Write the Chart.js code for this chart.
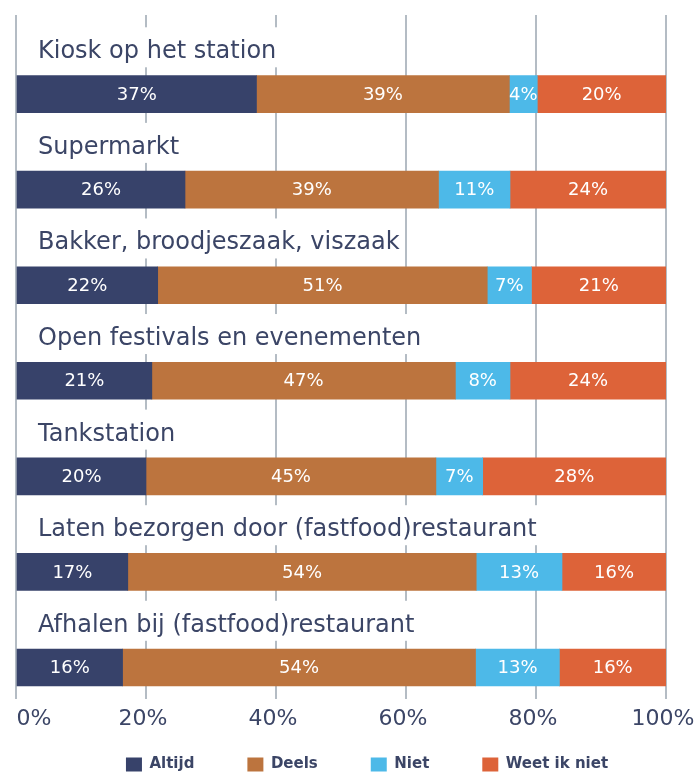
<!DOCTYPE html>
<html><head><meta charset="utf-8">
<script src="https://cdn.jsdelivr.net/npm/chart.js@4"></script>
<style>html,body{margin:0;padding:0;background:#fff}#wrap{width:697px;height:776px;position:relative}</style>
</head><body><div id="wrap"><canvas id="c"></canvas></div>
<script>
const categories = [
  'Kiosk op het station',
  'Supermarkt',
  'Bakker, broodjeszaak, viszaak',
  'Open festivals en evenementen',
  'Tankstation',
  'Laten bezorgen door (fastfood)restaurant',
  'Afhalen bij (fastfood)restaurant'
];
const seriesNames = ['Altijd', 'Deels', 'Niet', 'Weet ik niet'];
const altijd     = [37.0, 26.0, 21.8, 20.9, 20.0, 17.2, 16.4];
const deels      = [38.9, 39.0, 50.7, 46.7, 44.6, 53.6, 54.3];
const niet       = [4.3, 11.0, 6.8, 8.4, 7.2, 13.2, 12.9];
const weetIkNiet = [19.8, 24.0, 20.7, 24.0, 28.2, 16.0, 16.4];
const tickValues = [0, 20, 40, 60, 80, 100];
const tickLabels = ['0%', '20%', '40%', '60%', '80%', '100%'];
const colors = ['#37426a', '#bc743e', '#4db9e8', '#dd6339'];

const series = [altijd, deels, niet, weetIkNiet];
const FONT = 'DejaVu Sans';
const TEXT = '#3b4566';

const labelsPlugin = {
  id: 'catLabels',
  beforeDatasetsDraw(chart) {
    const {ctx, chartArea} = chart;
    const y = chart.scales.y;
    ctx.save();
    ctx.font = '24px "' + FONT + '"';
    ctx.textBaseline = 'alphabetic';
    ctx.textAlign = 'left';
    categories.forEach((c, i) => {
      const base = y.getPixelForValue(i - 0.374);
      const x0 = chartArea.left + 22;
      const w = ctx.measureText(c).width;
      ctx.fillStyle = '#ffffff';
      ctx.fillRect(x0 - 4, base - 31, w + 8, 40);
      ctx.fillStyle = TEXT;
      ctx.fillText(c, x0, base);
    });
    ctx.restore();
  },
  afterDatasetsDraw(chart) {
    const {ctx} = chart;
    ctx.save();
    ctx.font = '18px "' + FONT + '"';
    ctx.fillStyle = '#ffffff';
    ctx.textAlign = 'center';
    ctx.textBaseline = 'middle';
    series.forEach((vals, d) => {
      const meta = chart.getDatasetMeta(d);
      meta.data.forEach((el, i) => {
        const cx = (el.x + el.base) / 2;
        ctx.fillText(Math.round(vals[i]) + '%', cx, el.y + 1);
      });
    });
    ctx.restore();
  },
  afterLayout(chart) {
    const lg = chart.legend;
    if (lg) {
      lg.top -= 35; lg.bottom += 7;
      lg.left += 26; lg.right += 26;
    }
  }
};

new Chart(document.getElementById('c'), {
  type: 'bar',
  data: {
    datasets: series.map((vals, d) => ({
      label: seriesNames[d],
      data: vals.map((v, i) => ({x: v, y: i})),
      backgroundColor: colors[d],
      borderWidth: 0,
      barThickness: 37
    }))
  },
  options: {
    indexAxis: 'y',
    responsive: true,
    maintainAspectRatio: false,
    animation: false,
    layout: {padding: {left: 16, right: 31, top: 15, bottom: 7}},
    scales: {
      x: {
        type: 'linear', min: 0, max: 100, stacked: true, position: 'bottom',
        afterFit: s => { s.paddingLeft = 0; s.paddingRight = 0; },
        afterBuildTicks: s => { s.ticks = tickValues.map(v => ({value: v})); },
        grid: {color: '#b4bcc4', lineWidth: 2, drawTicks: false},
        border: {display: false},
        ticks: {
          padding: 7, color: TEXT, font: {family: FONT, size: 22},
          labelOffset: -3, maxRotation: 0, autoSkip: false,
          callback: (v, i) => i === 0 ? '\u00a0'.repeat(6) + tickLabels[i] : tickLabels[i]
        }
      },
      y: {type: 'linear', min: -0.827, max: 6.325, reverse: true, stacked: true, display: false,
          offset: false, grid: {offset: false}, bounds: 'data'}
    },
    plugins: {
      legend: {
        position: 'bottom',
        maxHeight: 30,
        labels: {
          boxWidth: 16, boxHeight: 14, padding: 53, color: TEXT,
          font: {family: FONT, size: 15, weight: 'bold'}
        }
      },
      tooltip: {enabled: false}
    }
  },
  plugins: [labelsPlugin]
});
</script>
</body></html>
